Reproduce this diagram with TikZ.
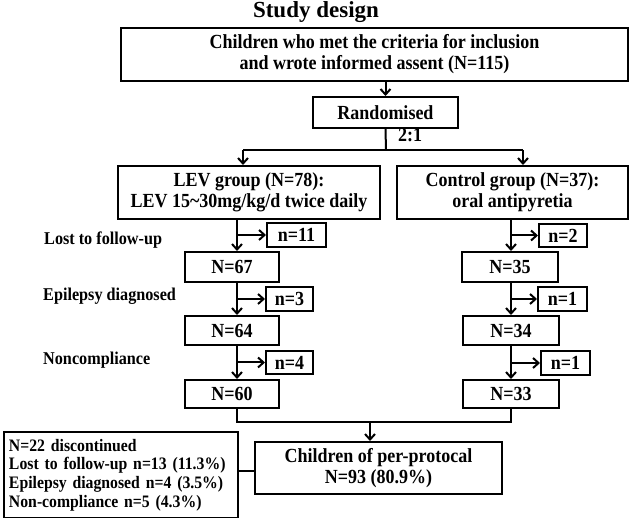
\documentclass[tikz,border=0pt]{standalone}
\usepackage{fontspec}
\setmainfont{Liberation Serif}
\newfontfamily\condfont[FakeStretch=0.9]{Liberation Serif}
\usetikzlibrary{arrows.meta}
\begin{document}
\begin{tikzpicture}[x=1pt,y=-1pt,
  every node/.style={font=\condfont\bfseries\fontsize{20}{21}\selectfont},
  box/.style={draw,line width=2pt,inner sep=0pt,align=center},
  lbl/.style={font=\condfont\bfseries\fontsize{18}{19}\selectfont,inner sep=0pt},
  conn/.style={line width=2pt},
  arr/.style={conn,-{Straight Barb[length=5.5pt,width=10pt]}}]
\useasboundingbox (0,0) rectangle (630,518);
% title
\node[font=\bfseries\fontsize{23}{26}\selectfont,inner sep=0pt,anchor=base] (title) at (316,17.5) {Study design};
% boxes
\node[box,minimum width=507pt,minimum height=53pt] (top) at (374.5,54.5) {Children who met the criteria for inclusion\\and wrote informed assent (N=115)};
\node[box,minimum width=145pt,minimum height=31pt] (rand) at (385.5,112.5) {Randomised};
\node[inner sep=0pt,anchor=base west] (ratio) at (398,142) {2:1};
\node[box,minimum width=262pt,minimum height=53pt] (lev) at (249,192.5) {LEV group (N=78):\\LEV 15\textasciitilde30mg/kg/d twice daily};
\node[box,minimum width=231pt,minimum height=53pt] (ctl) at (512.5,192.5) {Control group (N=37):\\oral antipyretia};
% left column
\node[box,minimum width=94pt,minimum height=30pt] (n67) at (232,267) {N=67};
\node[box,minimum width=94pt,minimum height=29pt] (n64) at (232,330.5) {N=64};
\node[box,minimum width=94pt,minimum height=28pt] (n60) at (232,394) {N=60};
\node[box,minimum width=59pt,minimum height=24pt] (n11) at (296.5,235) {n=11};
\node[box,minimum width=47pt,minimum height=24pt] (n3) at (289.5,299) {n=3};
\node[box,minimum width=47pt,minimum height=23pt] (n4) at (289.5,362.5) {n=4};
% right column
\node[box,minimum width=96pt,minimum height=30pt] (c35) at (510,267) {N=35};
\node[box,minimum width=96pt,minimum height=29pt] (c34) at (511,330.5) {N=34};
\node[box,minimum width=96pt,minimum height=28pt] (c33) at (511,394) {N=33};
\node[box,minimum width=48pt,minimum height=23pt] (c2) at (563,235.5) {n=2};
\node[box,minimum width=49pt,minimum height=24pt] (c1a) at (562.5,299) {n=1};
\node[box,minimum width=49pt,minimum height=24pt] (c1b) at (565.5,363) {n=1};
% side labels
\node[lbl,anchor=base west] (l1) at (44,245) {Lost to follow-up};
\node[lbl,anchor=base west] (l2) at (43,301) {Epilepsy diagnosed};
\node[lbl,anchor=base west] (l3) at (43,365) {Noncompliance};
% bottom
\node[box,minimum width=247pt,minimum height=52pt] (pp) at (378.5,468) {Children of per-protocal\\N=93 (80.9\%)};
\node[box,font=\condfont\bfseries\fontsize{17.5}{18.7}\selectfont,align=left,text width=224pt,inner xsep=5pt,minimum height=86pt,anchor=north west] (disc) at (3,431) {N=22 discontinued\\Lost to follow-up n=13 (11.3\%)\\Epilepsy diagnosed n=4 (3.5\%)\\Non-compliance n=5 (4.3\%)};
% helper coordinates
\coordinate (lx) at (237,0);
\coordinate (rx) at (511,0);
\coordinate (sp) at (386,150);
\coordinate (sl) at (243,150);
\coordinate (sr) at (523,150);
\coordinate (ml) at (237,422);
\coordinate (mr) at (511,422);
\coordinate (mm) at (370,422);
% connectors
\draw[arr] (top.south -| rand.north) -- (rand.north);
\draw[conn] (rand.south) -- (sp);
\draw[conn] (sl) -- (sr);
\draw[arr] (sl) -- (sl |- lev.north);
\draw[arr] (sr) -- (sr |- ctl.north);
% left chain
\draw[arr] (lev.south -| lx) -- (n67.north -| lx);
\draw[arr] (n67.south -| lx) -- (n64.north -| lx);
\draw[arr] (n64.south -| lx) -- (n60.north -| lx);
\draw[arr] (n11.west -| lx) -- (n11.west);
\draw[arr] (n3.west -| lx) -- (n3.west);
\draw[arr] (n4.west -| lx) -- (n4.west);
% right chain
\draw[arr] (ctl.south -| rx) -- (c35.north -| rx);
\draw[arr] (c35.south -| rx) -- (c34.north -| rx);
\draw[arr] (c34.south -| rx) -- (c33.north -| rx);
\draw[arr] (c2.west -| rx) -- (c2.west);
\draw[arr] (c1a.west -| rx) -- (c1a.west);
\draw[arr] (c1b.west -| rx) -- (c1b.west);
% merge
\draw[conn] (n60.south -| ml) -- (ml) -- (mr) -- (c33.south -| mr);
\draw[arr] (mm) -- (mm |- pp.north);
\draw[conn] (disc.east |- 0,471) -- (pp.west |- 0,471);
\end{tikzpicture}
\end{document}
